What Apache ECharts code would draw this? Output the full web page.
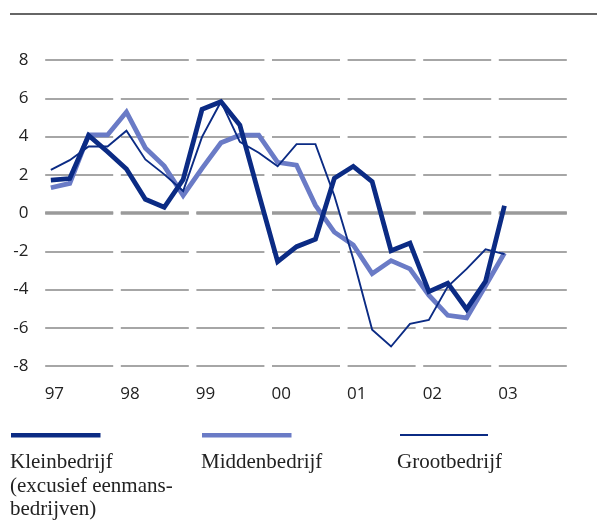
<!DOCTYPE html>
<html>
<head>
<meta charset="utf-8">
<script src="https://cdn.jsdelivr.net/npm/echarts@6/dist/echarts.min.js"></script>
<style>
  html, body { margin: 0; padding: 0; background: #fff; }
  #chart { width: 597px; height: 524px; }
</style>
</head>
<body>
<div id="chart"></div>
<script>
// kwartalen 97K1 .. 03K4
const years = ['97', '98', '99', '00', '01', '02', '03']
const quarters = ['K1', 'K2', 'K3', 'K4']
const categories = []
years.forEach(y => quarters.forEach(q => categories.push(y + q)))

const yTicks = [-8, -6, -4, -2, 0, 2, 4, 6, 8]

const klein = [1.72, 1.8, 4.05, 3.2, 2.3, 0.72, 0.3, 1.75, 5.42, 5.82, 4.6, 1.0,
  -2.54, -1.76, -1.37, 1.82, 2.44, 1.64, -1.97, -1.57, -4.11, -3.67, -5.03, -3.57, 0.38]
const midden = [1.32, 1.55, 4.08, 4.08, 5.28, 3.4, 2.45, 0.92, 2.33, 3.67, 4.07, 4.07,
  2.65, 2.5, 0.4, -1.0, -1.67, -3.17, -2.49, -2.92, -4.3, -5.35, -5.48, -3.8, -2.09]
const groot = [2.25, 2.76, 3.48, 3.48, 4.3, 2.8, 2.02, 1.15, 3.98, 5.82, 3.72, 3.15,
  2.44, 3.6, 3.6, 0.9, -2.4, -6.1, -6.98, -5.8, -5.59, -3.85, -2.92, -1.9, -2.15]

const donker = '#0b2b84'
const licht = '#6a7bc6'
const gridDash = [68, 7.6]

const chart = echarts.init(document.getElementById('chart'))

const option = {
  animation: false,
  textStyle: { fontFamily: 'Open Sans' },
  grid: { left: 41.4, right: 26.4, top: 60, bottom: 158 },
  xAxis: {
    type: 'category',
    data: categories,
    boundaryGap: true,
    axisLine: { show: false },
    axisTick: { show: false },
    axisLabel: {
      interval: 0,
      margin: 20,
      color: '#222',
      fontSize: 17,
      padding: [0, 0, 0, 7],
      formatter: v => (v.slice(2) === 'K1' ? v.slice(0, 2) : '')
    },
    splitLine: { show: false }
  },
  yAxis: {
    type: 'value',
    min: yTicks[0],
    max: yTicks[yTicks.length - 1],
    interval: 2,
    axisLine: { show: false },
    axisTick: { show: false },
    axisLabel: { margin: 13, color: '#222', fontSize: 17 },
    splitLine: {
      lineStyle: { color: '#a6a6a6', width: 2, type: gridDash, dashOffset: 71.8 }
    }
  },
  series: [
    {
      name: 'Kleinbedrijf',
      type: 'line',
      data: klein,
      z: 3,
      symbol: 'none',
      lineStyle: { color: donker, width: 4.8, join: 'miter', cap: 'butt' },
      markLine: {
        z: 1,
        silent: true,
        symbol: 'none',
        label: { show: false },
        lineStyle: { color: '#9a9a9a', width: 3.5, type: gridDash, dashOffset: 71.8 },
        data: [{ yAxis: 0 }]
      }
    },
    {
      name: 'Middenbedrijf',
      type: 'line',
      data: midden,
      z: 2,
      symbol: 'none',
      lineStyle: { color: licht, width: 4.8, join: 'miter', cap: 'butt' }
    },
    {
      name: 'Grootbedrijf',
      type: 'line',
      data: groot,
      z: 4,
      symbol: 'none',
      lineStyle: { color: donker, width: 1.9, join: 'miter', cap: 'butt' }
    }
  ],
  graphic: [
    { type: 'line', shape: { x1: 10, y1: 14, x2: 597, y2: 14 }, style: { stroke: '#333', lineWidth: 1.5 } },
    // legenda
    { type: 'rect', shape: { x: 11, y: 433, width: 89.5, height: 4.5 }, style: { fill: donker } },
    { type: 'rect', shape: { x: 202, y: 433, width: 89.5, height: 4.5 }, style: { fill: licht } },
    { type: 'rect', shape: { x: 400, y: 434, width: 88, height: 2 }, style: { fill: donker } },
    {
      type: 'text', left: 10, top: 451,
      style: {
        text: 'Kleinbedrijf\n(excusief eenmans-\nbedrijven)',
        font: '21px "Liberation Serif"', fill: '#222', lineHeight: 23.5
      }
    },
    {
      type: 'text', left: 201, top: 451,
      style: { text: 'Middenbedrijf', font: '21px "Liberation Serif"', fill: '#222', lineHeight: 23.5 }
    },
    {
      type: 'text', left: 397, top: 451,
      style: { text: 'Grootbedrijf', font: '21px "Liberation Serif"', fill: '#222', lineHeight: 23.5 }
    }
  ]
}

chart.setOption(option)
window.addEventListener('resize', () => { chart.resize() })
</script>
</body>
</html>
